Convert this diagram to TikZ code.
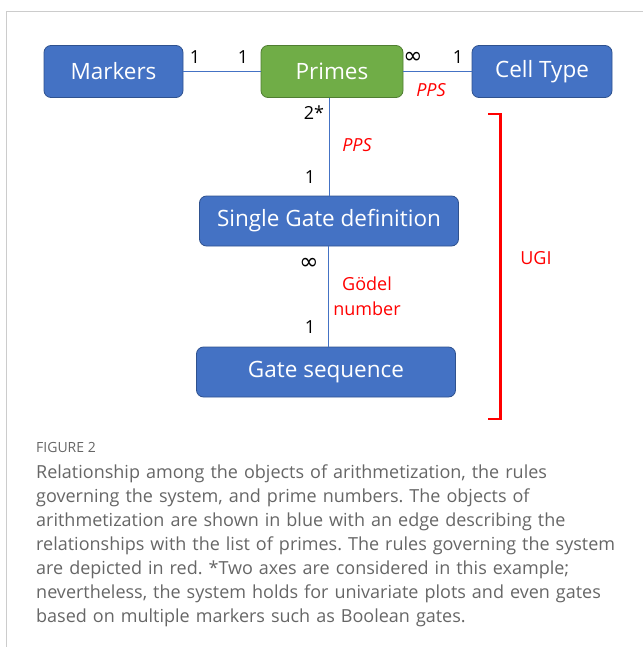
\documentclass[tikz,border=0pt]{standalone}
\usepackage{fontspec}
\setmainfont{Open Sans}
\newfontfamily\symfont{DejaVu Sans}
\usetikzlibrary{calc}
\definecolor{boxblue}{HTML}{4472C4}
\definecolor{boxblueedge}{HTML}{2F528F}
\definecolor{boxgreen}{HTML}{70AD47}
\definecolor{boxgreenedge}{HTML}{507E32}
\definecolor{captiongray}{HTML}{666666}
\definecolor{framegray}{HTML}{CCCCCC}
\tikzset{
  entity/.style={draw=boxblueedge, fill=boxblue, line width=0.8pt, rounded corners=7pt,
    text=white, font=\fontsize{22.5}{26}\selectfont, minimum height=52pt, inner sep=0pt},
  primebox/.style={entity, draw=boxgreenedge, fill=boxgreen},
  link/.style={draw=boxblue, line width=1pt},
  mult/.style={font=\fontsize{18}{20}\selectfont, text=black, inner sep=0pt},
  infmult/.style={mult, font=\fontsize{23}{24}\selectfont\symfont},
  rule/.style={font=\fontsize{18}{20}\selectfont, text=red, inner sep=0pt, align=left},
  bracket/.style={draw=red, line width=2.6pt},
}
\begin{document}
\frenchspacing
\begin{tikzpicture}[x=1pt,y=-1pt]
\useasboundingbox (0,0) rectangle (643,647);
% frame
\draw[framegray, line width=1pt] (6.5,647) -- (6.5,11.5) -- (643,11.5);
% boxes
\node[entity, minimum width=139pt] (markers) at (113.5,71.5) {Markers};
\node[primebox, minimum width=142pt] (primes) at (332,71.5) {Primes};
\node[entity, minimum width=140pt] (cell) at (542,71.5) {Cell Type};
\node[entity, minimum width=259pt, minimum height=50pt] (sgd) at (329,221) {Single Gate definition};
\node[entity, minimum width=259pt, minimum height=50pt] (gs) at (326,372) {Gate sequence};
% connectors
\draw[link] (markers) -- (primes);
\draw[link] (primes) -- (cell);
\draw[link] (sgd.north) -- (sgd.north |- primes.south);
\draw[link] ($(sgd.south)+(-1,0)$) -- ($(sgd.south |- gs.north)+(-1,0)$);
% multiplicities
\node[mult] (m1) at (195,57) {1};
\node[mult] (m2) at (243,57) {1};
\node[infmult] (m3) at (413,58) {∞};
\node[mult] (m4) at (458,57) {1};
\node[mult] (m5) at (314,113) {2*};
\node[mult] (m6) at (310,177) {1};
\node[infmult] (m7) at (309,264) {∞};
\node[mult] (m8) at (310,327) {1};
% rules
\node[rule, font=\fontsize{18}{20}\selectfont\itshape] (pps1) at (431,90) {PPS};
\node[rule, font=\fontsize{18}{20}\selectfont\itshape] (pps2) at (357,145) {PPS};
\node[rule, align=center, font=\fontsize{18}{25}\selectfont] (godel) at (367,296) {Gödel\\number};
\node[rule] (ugi) at (536,258) {UGI};
% bracket
\coordinate (bt) at (488,114);
\coordinate (bb) at (488,419);
\draw[bracket] (bt) -- ++(12.5,0) |- (bb);
% caption
\node[anchor=north west, inner sep=0pt, text=captiongray, font=\fontsize{14}{16}\selectfont] (fig) at (36,442) {FIGURE 2};
\node[anchor=north west, inner sep=0pt, text=captiongray, text width=600pt, align=left,
  font=\fontsize{18}{24}\selectfont] (cap) at (36,465)
{Relationship among the objects of arithmetization, the rules\\
governing the system, and prime numbers. The objects of\\
arithmetization are shown in blue with an edge describing the\\
relationships with the list of primes. The rules governing the system\\
are depicted in red. *Two axes are considered in this example;\\
nevertheless, the system holds for univariate plots and even gates\\
based on multiple markers such as Boolean gates.};
\end{tikzpicture}
\end{document}
